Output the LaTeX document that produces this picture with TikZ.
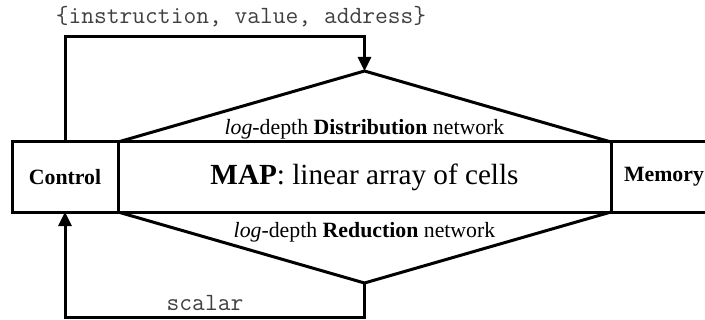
\documentclass[tikz,border=0pt]{standalone}
\usepackage{fontspec}
\setmainfont{Liberation Serif}
\usetikzlibrary{arrows.meta}
\begin{document}
\begin{tikzpicture}[x=0.5pt,y=-0.5pt,line width=1.5pt,
    >={Triangle[length=7pt,width=6.5pt]},
    unit/.style={draw,rectangle,inner sep=0pt,outer sep=0pt,minimum height=35pt},
    tag/.style={font=\fontsize{10.9}{13}\selectfont},
    code/.style={font=\fontsize{12.4}{14}\selectfont\ttfamily,text=black!75}]

      \clip (0,0) rectangle (705,320);

      \path (65,177) node [unit,minimum width=53pt,tag](box_ctrl){\textbf{Control}};
      \path (364.5,177) node [unit,minimum width=246.5pt,font=\fontsize{14.6}{17}\selectfont](box_map){\textbf{MAP}: linear array of cells};
      \path (664,177) node [unit,minimum width=53pt,tag](box_mem){\textbf{Memory}};
      \path (364.5,71) coordinate (net_dist) (364.5,283) coordinate (net_red);
      \path (65,37) coordinate (ctrl_up) (364.5,37) coordinate (dist_in);
      \path (65,317) coordinate (ctrl_down) (364.5,317) coordinate (red_out);

      % the two log-depth trees over and under the array
      \draw (box_map.north west) -- (net_dist) -- (box_map.north east);
      \draw (box_map.south west) -- (net_red) -- (box_map.south east);
      \path (364.5,135) node [tag,anchor=base](lbl_dist){\textit{log}-depth \textbf{Distribution} network};
      \path (364.5,237) node [tag,anchor=base](lbl_red){\textit{log}-depth \textbf{Reduction} network};

      \draw[->] (box_ctrl.north) -- (ctrl_up) -- (dist_in) -- (net_dist);
      \draw[->] (net_red) -- (red_out) -- (ctrl_down) -- (box_ctrl.south);
      \path (241,17) node [code](lbl_bcast){\{instruction, value, address\}};
      \path (205,303) node [code](lbl_scalar){scalar};

    \end{tikzpicture}
\end{document}
